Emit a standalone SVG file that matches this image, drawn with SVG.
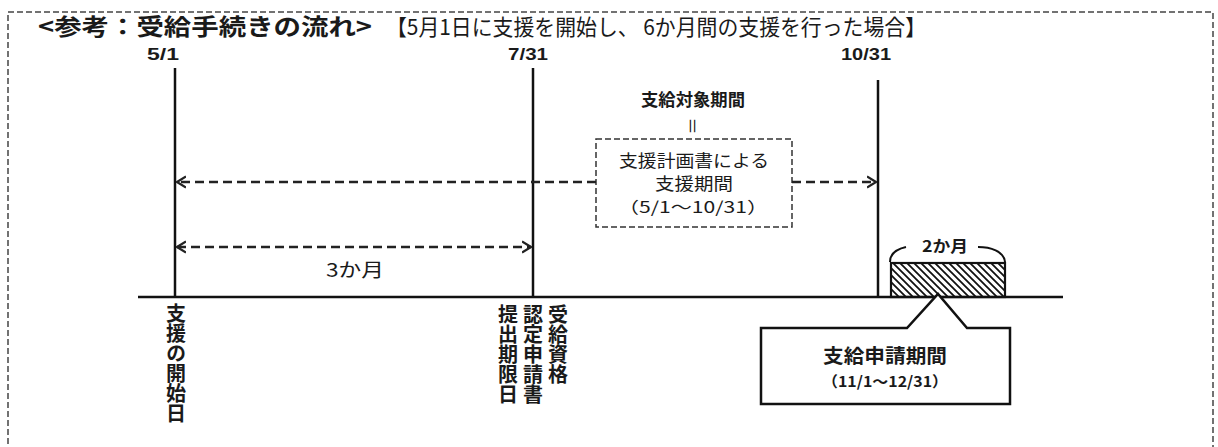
<svg xmlns="http://www.w3.org/2000/svg" width="1218" height="447" viewBox="0 0 1218 447">
<style>
.jp{font-family:"Noto Sans CJK JP","Liberation Sans",sans-serif;fill:#1a1a1a}
.num{font-family:"Liberation Sans","Noto Sans CJK JP",sans-serif;font-weight:bold;fill:#1a1a1a}
.b{font-weight:bold}
.ln{stroke:#111;stroke-width:2.5;fill:none}
.dash{stroke:#222;stroke-width:2.4;stroke-dasharray:9 5;fill:none}
.vt{writing-mode:vertical-rl;font-size:20px;font-weight:bold}
</style>
<defs>
<marker id="ah" viewBox="0 -7 10 14" refX="9" refY="0" markerWidth="10" markerHeight="14" markerUnits="userSpaceOnUse" orient="auto-start-reverse">
<path d="M0,-5.5 L9,0 L0,5.5" fill="none" stroke="#222" stroke-width="2.2"/>
</marker>
<pattern id="hatch" patternUnits="userSpaceOnUse" width="7" height="7">
<path d="M-2,-2 L9,9 M-2,5 L2,9 M5,-2 L9,2" stroke="#111" stroke-width="1.8"/>
</pattern>
</defs>
<rect x="8" y="12" width="1205" height="460" fill="none" stroke="#444" stroke-width="1.5" stroke-dasharray="6 3"/>
<g id="title">
<text class="jp b" x="38" y="35" font-size="23" textLength="334" lengthAdjust="spacingAndGlyphs">&lt;参考：受給手続きの流れ&gt;</text>
<text class="jp" x="386" y="35" font-size="22" textLength="540" lengthAdjust="spacingAndGlyphs">【5月1日に支援を開始し、 6か月間の支援を行った場合】</text>
</g>
<g id="timeline">
<line class="ln" x1="138" y1="297" x2="1063" y2="297" stroke-width="3"/>
</g>
<g id="d51">
<text class="num" x="163" y="60" font-size="17" text-anchor="middle" textLength="32" lengthAdjust="spacingAndGlyphs">5/1</text>
<line class="ln" x1="175" y1="68" x2="175" y2="297"/>
<text class="jp vt" x="176" y="303">支援の開始日</text>
</g>
<g id="d731">
<text class="num" x="528" y="60" font-size="17" text-anchor="middle" textLength="40" lengthAdjust="spacingAndGlyphs">7/31</text>
<line class="ln" x1="533" y1="68" x2="533" y2="297"/>
<text class="jp vt" x="558" y="304">受給資格</text>
<text class="jp vt" x="533" y="304">認定申請書</text>
<text class="jp vt" x="508" y="304">提出期限日</text>
</g>
<g id="d1031">
<text class="num" x="866" y="60" font-size="17" text-anchor="middle" textLength="50" lengthAdjust="spacingAndGlyphs">10/31</text>
<line class="ln" x1="878" y1="80" x2="878" y2="297"/>
</g>
<g id="support-period">
<text class="jp b" x="693" y="106" font-size="17" text-anchor="middle" textLength="104" lengthAdjust="spacingAndGlyphs">支給対象期間</text>
<text class="jp" x="0" y="0" font-size="17" text-anchor="middle" transform="translate(692 126) rotate(90)" dy="6">＝</text>
<rect x="596" y="139" width="196" height="88" fill="#fff" stroke="#333" stroke-width="1.5" stroke-dasharray="6 3"/>
<text class="jp" x="694" y="167" font-size="17" text-anchor="middle" textLength="150" lengthAdjust="spacingAndGlyphs">支援計画書による</text>
<text class="jp" x="694" y="190" font-size="17" text-anchor="middle" textLength="78" lengthAdjust="spacingAndGlyphs">支援期間</text>
<text class="jp" x="693" y="213" font-size="16" text-anchor="middle" textLength="150" lengthAdjust="spacingAndGlyphs">（5/1～10/31）</text>
</g>
<g id="three-months">
<text class="jp" x="355" y="277" font-size="19" text-anchor="middle" textLength="58" lengthAdjust="spacingAndGlyphs">3か月</text>
</g>
<g id="application-period">
<rect x="891" y="263" width="114" height="34" fill="url(#hatch)" stroke="#111" stroke-width="2.2"/>
<path d="M890,262 C890,253 897,249 906,247 M978,247 C990,247 1004,251 1005,262" fill="none" stroke="#111" stroke-width="2"/>
<text class="jp b" x="945" y="252" font-size="16" text-anchor="middle" textLength="46" lengthAdjust="spacingAndGlyphs">2か月</text>
</g>
<g id="callout">
<path d="M761,328 L907,328 L938,294 L967,328 L1010,328 L1010,404 L761,404 Z" fill="#fff" stroke="#111" stroke-width="2.5"/>
<text class="jp b" x="885" y="363" font-size="19" text-anchor="middle" textLength="124" lengthAdjust="spacingAndGlyphs">支給申請期間</text>
<text class="jp b" x="885" y="387" font-size="15" text-anchor="middle" textLength="126" lengthAdjust="spacingAndGlyphs">（11/1～12/31）</text>
</g>
<g id="connectors">
<path class="dash" d="M596,182 L177,182" marker-end="url(#ah)"/>
<path class="dash" d="M792,182 L876,182" marker-end="url(#ah)"/>
<path class="dash" d="M177,247 L531,247" marker-start="url(#ah)" marker-end="url(#ah)"/>
</g>
</svg>
